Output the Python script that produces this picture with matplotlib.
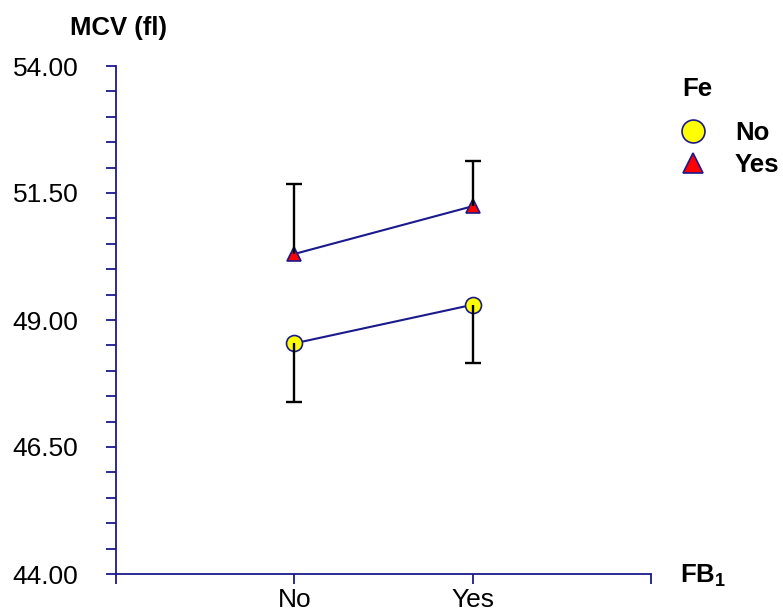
import matplotlib
matplotlib.use("Agg")
import matplotlib.pyplot as plt
from matplotlib.lines import Line2D
from matplotlib.ticker import MultipleLocator

plt.rcParams['font.family'] = ['Liberation Sans', 'DejaVu Sans']
plt.rcParams['mathtext.fontset'] = 'custom'
plt.rcParams['mathtext.rm'] = 'Liberation Sans'
plt.rcParams['mathtext.bf'] = 'Liberation Sans:bold'

categories = ['No', 'Yes']
fe_no_mean = [48.54, 49.30]
fe_no_lower = [47.39, 48.15]
fe_yes_mean = [50.30, 51.24]
fe_yes_upper = [51.68, 52.13]
y_ticks = [44.00, 46.50, 49.00, 51.50, 54.00]

navy = '#1a1a8c'
W, H = 783, 612

fig = plt.figure(figsize=(7.83, 6.12), dpi=100)
ax = fig.add_axes([116/W, 1 - 574/H, (651-116)/W, (574-66)/H])

x = [1, 2]

ax.plot(x, fe_no_mean, color=navy, lw=1.5, marker='o', ms=11.5,
        mfc='#ffff00', mec=navy, mew=1.2, zorder=3)
ax.plot(x, fe_yes_mean, color=navy, lw=1.5, marker='^', ms=10.5,
        mfc='#ff0000', mec=navy, mew=1.2, zorder=3)

err_no = [[m - l for m, l in zip(fe_no_mean, fe_no_lower)], [0, 0]]
err_yes = [[0, 0], [u - m for u, m in zip(fe_yes_upper, fe_yes_mean)]]
eb1 = ax.errorbar(x, fe_no_mean, yerr=err_no, fmt='none', ecolor='black',
                  elinewidth=1.7, capsize=6, capthick=1.7, zorder=4)
eb2 = ax.errorbar(x, fe_yes_mean, yerr=err_yes, fmt='none', ecolor='black',
                  elinewidth=1.7, capsize=6, capthick=1.7, zorder=4)
# one-sided bars: hide the caps on the zero side
eb1[1][1].set_visible(False)
eb2[1][0].set_visible(False)

ax.set_xlim(0, 3)
ax.set_ylim(44, 54)
ax.set_xticks([0, 1, 2, 3])
ax.set_xticklabels([''] + categories + [''])
ax.set_yticks(y_ticks)
ax.set_yticklabels([f'{v:.2f}' for v in y_ticks])
ax.yaxis.set_minor_locator(MultipleLocator(0.5))

for s in ['top', 'right']:
    ax.spines[s].set_visible(False)
for s in ['left', 'bottom']:
    ax.spines[s].set_color(navy)
    ax.spines[s].set_linewidth(1.3)

ax.tick_params(axis='y', which='both', direction='out', length=7, width=1.3,
               color=navy, labelsize=19, pad=20)
ax.tick_params(axis='x', which='both', direction='out', length=7, width=1.3,
               color=navy, labelsize=19, pad=3)

fig.text(118/W, 1 - 35/H, 'MCV (fl)', ha='center', va='baseline',
         fontsize=18.5, fontweight='bold')
fig.text(680/W, 1 - 583/H, r'$\mathbf{FB_1}$', ha='left', va='baseline',
         fontsize=18.5)

# legend
fig.text(682/W, 1 - 96/H, 'Fe', ha='left', va='baseline',
         fontsize=18.5, fontweight='bold')
leg_markers = [
    dict(marker='o', ms=16.5, mfc='#ffff00'),
    dict(marker='^', ms=15, mfc='#ff0000'),
]
leg_rows = [131, 163]
for lab, mk, yr in zip(categories, leg_markers, leg_rows):
    fig.add_artist(Line2D([693/W], [1 - yr/H], ls='none', mec=navy, mew=1.2,
                          transform=fig.transFigure, **mk))
    fig.text(735/W, 1 - yr/H, lab, ha='left', va='center_baseline',
             fontsize=18.5, fontweight='bold')

fig.savefig('out.png', dpi=100)
